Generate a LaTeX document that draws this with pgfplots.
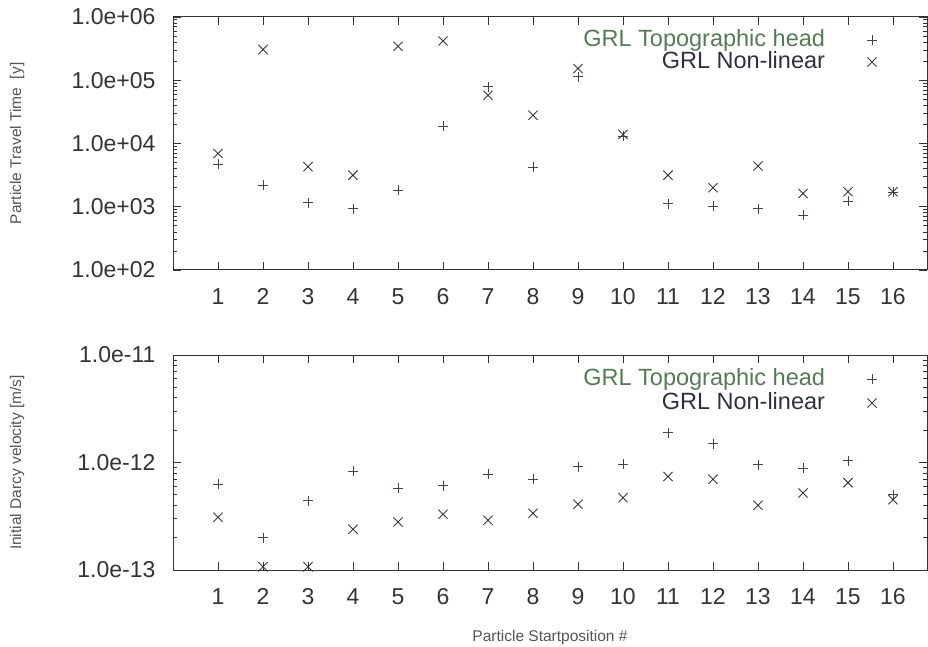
\documentclass[border=0pt]{standalone}
\usepackage{fontspec}
\setmainfont{Liberation Sans}
\usepackage{pgfplots}
\pgfplotsset{compat=1.18}
\definecolor{axgray}{HTML}{333333}
\definecolor{lblgray}{HTML}{555555}
\definecolor{topogreen}{HTML}{567A56}
\definecolor{nldark}{HTML}{30303C}
\definecolor{plusc}{HTML}{3E4A3E}
\definecolor{crossc}{HTML}{383838}
\pgfplotsset{
  legend image code/.code={\draw[#1] plot coordinates {(0pt,0.5pt)};},
}
\pgfplotsset{
  every axis/.append style={
    scale only axis, width=754pt, xmin=0, xmax=16.756,
    clip=false,
    axis line style={axgray, line width=1pt},
    every tick/.style={axgray, line width=0.8pt},
    major tick length=8pt, minor tick length=4pt,
    xtick={1,2,3,4,5,6,7,8,9,10,11,12,13,14,15,16},
    xticklabels={1,2,3,4,5,6,7,8,9,10,11,12,13,14,15,16},
    tick label style={font=\fontsize{23}{27}\selectfont, text=axgray},
    xticklabel style={yshift=-15pt},
    yticklabel style={xshift=-14pt},
    legend style={draw=none, fill=none, inner sep=0pt, outer sep=0pt,
      font=\fontsize{23.5}{28}\selectfont,
      nodes={inner sep=0pt, text height=17pt, text depth=5pt},
      column sep=42pt, row sep=0pt},
    legend plot pos=right,
    legend cell align=right,
  },
  every axis y label/.style={at={(axis description cs:-0.2069,0.5)}, rotate=90, anchor=center,
      font=\fontsize{15.5}{18}\selectfont, text=lblgray},
  every axis x label/.style={at={(axis description cs:0.5,-0.3116)}, anchor=center,
      font=\fontsize{15.5}{18}\selectfont, text=lblgray},
  plusstyle/.style={only marks, mark=+, mark size=5pt, color=plusc, mark options={line width=0.9pt}},
  crossstyle/.style={only marks, mark=x, mark size=6.5pt, color=crossc, mark options={line width=0.9pt}},
}
\begin{document}
\begin{tikzpicture}
\path[use as bounding box] (0,0) rectangle (928pt,647pt);
% top axis
\begin{semilogyaxis}[at={(173pt,377pt)}, anchor=south west, height=253pt,
  ymin=1e2, ymax=1e6,
  ytick={1e2,1e3,1e4,1e5,1e6},
  yticklabels={\mbox{1.0e+02},\mbox{1.0e+03},\mbox{1.0e+04},\mbox{1.0e+05},\mbox{1.0e+06}},
  minor ytick={200,300,400,500,600,700,800,900,2000,3000,4000,5000,6000,7000,8000,9000,20000,30000,40000,50000,60000,70000,80000,90000,200000,300000,400000,500000,600000,700000,800000,900000},
  ylabel={Particle Travel Time\ \ [y]},
  legend style={at={(axis description cs:0.9337,0.9506)}, anchor=north east},
]
\addplot[plusstyle] coordinates {
(1,4700)(2,2200)(3,1160)(4,930)(5,1830)(6,18800)(7,78500)(8,4200)
(9,113000)(10,13000)(11,1110)(12,1020)(13,930)(14,730)(15,1230)(16,1700)};
\addlegendentry{\textcolor{topogreen}{GRL Topographic head}}
\addplot[crossstyle] coordinates {
(1,6950)(2,305000)(3,4300)(4,3160)(5,344000)(6,418000)(7,58000)(8,28000)
(9,153000)(10,13900)(11,3160)(12,2000)(13,4400)(14,1620)(15,1730)(16,1730)};
\addlegendentry{\textcolor{nldark}{GRL Non-linear}}
\end{semilogyaxis}
% bottom axis
\begin{semilogyaxis}[at={(173pt,77pt)}, anchor=south west, height=215pt,
  ymin=1e-13, ymax=1e-11,
  ytick={1e-13,1e-12,1e-11},
  yticklabels={\mbox{1.0e-13},\mbox{1.0e-12},\mbox{1.0e-11}},
  minor ytick={2e-13,3e-13,4e-13,5e-13,6e-13,7e-13,8e-13,9e-13,2e-12,3e-12,4e-12,5e-12,6e-12,7e-12,8e-12,9e-12},
  ylabel={Initial Darcy velocity [m/s]},
  xlabel={Particle Startposition \#},
  legend style={at={(axis description cs:0.9337,0.937)}, anchor=north east, row sep=2pt},
]
\addplot[plusstyle] coordinates {
(1,6.3e-13)(2,2.0e-13)(3,4.4e-13)(4,8.3e-13)(5,5.75e-13)(6,6.1e-13)(7,7.8e-13)(8,7.0e-13)
(9,9.15e-13)(10,9.6e-13)(11,1.9e-12)(12,1.5e-12)(13,9.5e-13)(14,8.9e-13)(15,1.04e-12)(16,5.0e-13)};
\addlegendentry{\textcolor{topogreen}{GRL Topographic head}}
\addplot[crossstyle] coordinates {
(1,3.1e-13)(2,1.07e-13)(3,1.07e-13)(4,2.4e-13)(5,2.8e-13)(6,3.3e-13)(7,2.9e-13)(8,3.37e-13)
(9,4.1e-13)(10,4.7e-13)(11,7.4e-13)(12,7.0e-13)(13,4.0e-13)(14,5.2e-13)(15,6.5e-13)(16,4.5e-13)};
\addlegendentry{\textcolor{nldark}{GRL Non-linear}}
\end{semilogyaxis}
\end{tikzpicture}
\end{document}
